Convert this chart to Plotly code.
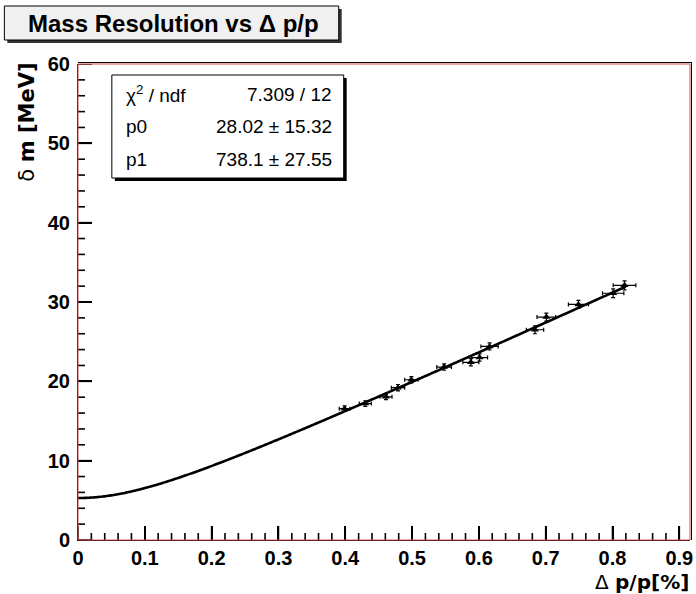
import numpy as np
import plotly.graph_objects as go

# Measured mass resolution vs momentum resolution
dpp = [0.399, 0.430, 0.461, 0.479, 0.499, 0.548, 0.588, 0.601, 0.616, 0.684, 0.701, 0.749, 0.801, 0.818]
dm = [16.55, 17.2, 18.05, 19.2, 20.2, 21.8, 22.4, 23.0, 24.4, 26.5, 28.1, 29.7, 31.1, 32.1]
dpp_err = [0.008, 0.009, 0.009, 0.010, 0.010, 0.011, 0.012, 0.012, 0.013, 0.013, 0.014, 0.015, 0.016, 0.017]
dm_err = [0.35, 0.35, 0.35, 0.4, 0.4, 0.4, 0.45, 0.45, 0.45, 0.5, 0.5, 0.5, 0.55, 0.57]

# Fit results
chi2, ndf = 7.309, 12
p0, p0_err = 28.02, 15.32
p1, p1_err = 738.1, 27.55
fit_xmax = 0.82

x_ticks = [0, 0.1, 0.2, 0.3, 0.4, 0.5, 0.6, 0.7, 0.8, 0.9]
y_ticks = [0, 10, 20, 30, 40, 50, 60]
x_range = [0, 0.916]
y_range = [0, 60]
n_minor = 5  # subdivisions between major ticks

W, H = 696, 594
L, R, T, B = 78, 3, 64, 54
PW, PH = W - L - R, H - T - B


def px(xp):
    return (xp - L) / PW


def py(yp):
    return (H - B - yp) / PH


FONT = "Liberation Sans, Arial, Helvetica, sans-serif"
WIDE = "DejaVu Sans, Verdana, sans-serif"

xf = np.linspace(0, fit_xmax, 400)
yf = np.sqrt(p0 + 2 * p1 * xf ** 2)

# inward tick marks, built as line segments in data units
MAJ, MIN = 14, 7
x_per_px = (x_range[1] - x_range[0]) / PW
y_per_px = (y_range[1] - y_range[0]) / PH
tx, ty = [], []
xstep = (x_ticks[1] - x_ticks[0]) / n_minor
i = 0
while x_range[0] + i * xstep <= x_range[1] + 1e-9:
    xv = x_range[0] + i * xstep
    length = MAJ if i % n_minor == 0 else MIN
    tx += [xv, xv, None]
    ty += [y_range[0], y_range[0] + length * y_per_px, None]
    i += 1
ystep = (y_ticks[1] - y_ticks[0]) / n_minor
i = 0
while y_range[0] + i * ystep <= y_range[1] + 1e-9:
    yv = y_range[0] + i * ystep
    length = MAJ if i % n_minor == 0 else MIN
    tx += [x_range[0], x_range[0] + length * x_per_px, None]
    ty += [yv, yv, None]
    i += 1

fig = go.Figure()
fig.add_trace(go.Scatter(
    x=tx, y=ty, mode="lines", line=dict(color="black", width=1.6),
    connectgaps=False, hoverinfo="skip", showlegend=False))
fig.add_trace(go.Scatter(
    x=xf, y=yf, mode="lines", line=dict(color="black", width=2.6, simplify=False),
    hoverinfo="skip", showlegend=False))
fig.add_trace(go.Scatter(
    x=dpp, y=dm, mode="markers",
    marker=dict(symbol="triangle-up", size=7, color="black"),
    error_x=dict(type="data", array=dpp_err, color="black", thickness=1.2, width=2),
    error_y=dict(type="data", array=dm_err, color="black", thickness=1.2, width=2),
    showlegend=False))

axis_common = dict(
    showgrid=False, zeroline=False, showline=True, linecolor="black", linewidth=1,
    ticks="inside", ticklen=MAJ, tickwidth=1.5, tickcolor="black",
    tickfont=dict(family=FONT, size=20, color="black", weight="bold"),
    mirror=False, tickmode="array", ticklabeloverflow="allow")

fig.update_xaxes(range=x_range, tickvals=x_ticks, ticktext=[f"{v:g}" for v in x_ticks],
                 **axis_common)
fig.update_yaxes(range=y_range, tickvals=y_ticks, ticktext=[str(v) for v in y_ticks],
                 ticklabelstandoff=3, **axis_common)

shapes = []
# frame
shapes.append(dict(type="rect", xref="paper", yref="paper", x0=0, x1=1, y0=0, y1=1,
                   line=dict(color="#d85050", width=1), layer="above"))
shapes.append(dict(type="line", xref="paper", yref="paper", x0=0, x1=px(W - 1), y0=py(T - 1.5), y1=py(T - 1.5),
                   line=dict(color="black", width=1)))
shapes.append(dict(type="line", xref="paper", yref="paper", x0=px(W - 1.5), x1=px(W - 1.5), y0=0, y1=py(T - 1.5),
                   line=dict(color="black", width=1)))

# title box with shadow
shapes.append(dict(type="rect", xref="paper", yref="paper", x0=px(7), x1=px(343), y0=py(43), y1=py(9),
                   fillcolor="#333333", line=dict(width=0)))
shapes.append(dict(type="rect", xref="paper", yref="paper", x0=px(4), x1=px(340), y0=py(40), y1=py(6),
                   fillcolor="#f0f0f0", line=dict(color="black", width=1)))

# stats box with shadow
shapes.append(dict(type="rect", xref="paper", yref="paper", x0=px(115), x1=px(348), y0=py(181), y1=py(78),
                   fillcolor="black", line=dict(width=0), layer="above"))
shapes.append(dict(type="rect", xref="paper", yref="paper", x0=px(112), x1=px(345), y0=py(178), y1=py(75),
                   fillcolor="white", line=dict(color="black", width=1), layer="above"))

annotations = []
annotations.append(dict(xref="paper", yref="paper", x=px(174), y=py(23), xanchor="center", yanchor="middle",
                        text="<b>Mass Resolution vs \u0394 p/p</b>", showarrow=False,
                        font=dict(family=FONT, size=24, color="black")))

rows = [
    ("\u03c7<sup>2</sup> / ndf", f"{chi2} / {ndf}", 94),
    ("p0", f"{p0:.2f} \u00b1 {p0_err:.2f}", 127),
    ("p1", f"{p1:.1f} \u00b1 {p1_err:.2f}", 159),
]
for left, right, yp in rows:
    annotations.append(dict(xref="paper", yref="paper", x=px(124), y=py(yp), xanchor="left", yanchor="middle",
                            text=left, showarrow=False, font=dict(family=FONT, size=19, color="black")))
    annotations.append(dict(xref="paper", yref="paper", x=px(335), y=py(yp), xanchor="right", yanchor="middle",
                            text=right, showarrow=False, font=dict(family=FONT, size=19, color="black")))

# axis titles
annotations.append(dict(xref="paper", yref="paper", x=px(26), y=py(61), xanchor="center", yanchor="top",
                        textangle=-90, text="\u03b4 <b>m [MeV]</b>", showarrow=False,
                        font=dict(family=WIDE, size=21, color="black")))
annotations.append(dict(xref="paper", yref="paper", x=px(694), y=py(582), xanchor="right", yanchor="middle",
                        text="\u0394 <b>p/p[%]</b>", showarrow=False,
                        font=dict(family=WIDE, size=20, color="black")))

fig.update_layout(
    width=W, height=H, margin=dict(l=L, r=R, t=T, b=B, pad=0),
    paper_bgcolor="white", plot_bgcolor="white",
    shapes=shapes, annotations=annotations, showlegend=False)

fig.write_html("out.html")
